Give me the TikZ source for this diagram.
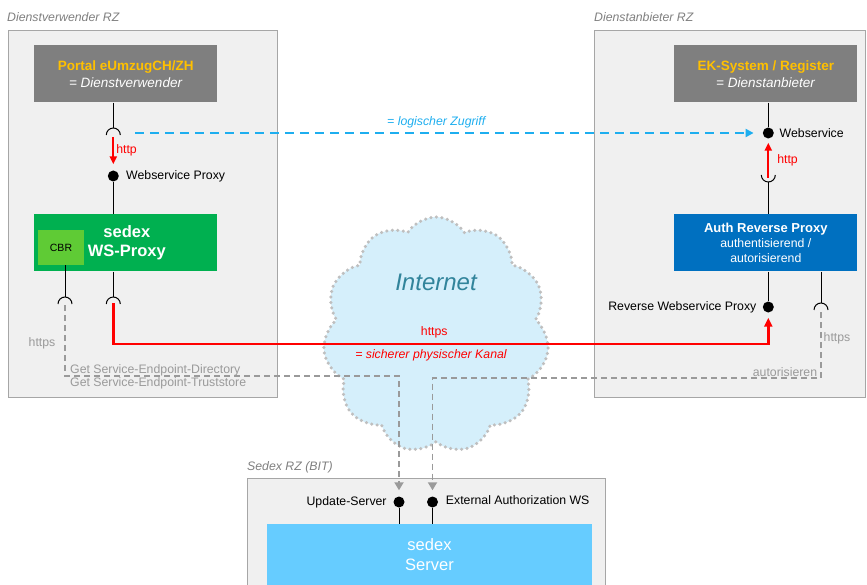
\documentclass[tikz,border=0pt]{standalone}
\usepackage{fontspec}
\setmainfont{Liberation Sans}
\usepackage{xcolor}
\usetikzlibrary{shapes.symbols, arrows.meta, positioning}

\definecolor{rzfill}{HTML}{F0F0F0}
\definecolor{rzline}{HTML}{A6A6A6}
\definecolor{boxgray}{HTML}{7F7F7F}
\definecolor{titleorange}{HTML}{FFC000}
\definecolor{proxygreen}{HTML}{00B050}
\definecolor{cbrgreen}{HTML}{5FCB35}
\definecolor{authblue}{HTML}{0070C0}
\definecolor{serverblue}{HTML}{66CCFF}
\definecolor{cloudfill}{HTML}{D5EFFB}
\definecolor{cloudline}{HTML}{BFBFBF}
\definecolor{nettext}{HTML}{31849B}
\definecolor{logicblue}{HTML}{1EAEEF}
\definecolor{flowgray}{HTML}{9A9A9A}

\begin{document}
\begin{tikzpicture}[x=1pt, y=-1pt, font=\fontsize{12.3}{14}\selectfont]
\tikzstyle{rz} = [draw=rzline, fill=rzfill, line width=0.8pt]
\tikzstyle{rzname} = [anchor=west, inner sep=0pt, text=boxgray, font=\fontsize{12.3}{14}\selectfont\itshape]
\tikzstyle{system} = [rectangle, fill=boxgray, text=white, minimum width=183pt, minimum height=57pt, align=center, inner sep=0pt, font=\fontsize{13.5}{16.5}\selectfont]
\tikzstyle{proxy} = [rectangle, fill=proxygreen, text=white, minimum width=183pt, minimum height=57pt, align=center, inner sep=0pt, font=\fontsize{16.5}{19}\selectfont\bfseries]
\tikzstyle{auth} = [rectangle, fill=authblue, text=white, minimum width=183pt, minimum height=57pt, align=center, inner sep=0pt, font=\fontsize{12.3}{15}\selectfont]
\tikzstyle{server} = [rectangle, fill=serverblue, text=white, minimum width=325pt, minimum height=62pt, align=center, inner sep=0pt, font=\fontsize{16.5}{20}\selectfont]
\tikzstyle{wsdot} = [circle, fill=black, inner sep=0pt, minimum size=11pt]
\tikzstyle{wsname} = [inner sep=0pt]
\tikzstyle{wire} = [line width=1pt]
\tikzstyle{httparrow} = [line width=2pt, red, -{Triangle[length=8pt, width=7pt]}]
\tikzstyle{phys} = [line width=2.6pt, red, -{Triangle[length=9pt, width=8pt]}]
\tikzstyle{logic} = [line width=2pt, logicblue, dash pattern=on 9pt off 6pt, -{Triangle[length=8pt, width=8pt]}]
\tikzstyle{flow} = [line width=1.8pt, flowgray, dash pattern=on 6pt off 4pt, -{Triangle[length=8pt, width=9pt]}]
\tikzstyle{grynote} = [text=flowgray, inner sep=0pt]

\useasboundingbox (0,0) rectangle (867,585);

% Rechenzentren
\draw[rz] (8,30) rectangle (277,397);
\draw[rz] (594,30) rectangle (865,397);
\fill[rzfill] (247,478) rectangle (605,590);
\draw[rzline, line width=0.8pt] (247,590) -- (247,478) -- (605,478) -- (605,590);
\node[rzname] (lrzname) at (7,17) {Dienstverwender RZ};
\node[rzname] (rrzname) at (594,17) {Dienstanbieter RZ};
\node[rzname] (brzname) at (247,467) {Sedex RZ (BIT)};

\node[cloud, cloud puffs=11, cloud puff arc=115, aspect=1, minimum width=226pt, minimum height=236pt, fill=cloudfill, draw=cloudline, line width=3.5pt, dash pattern=on 0pt off 5.5pt, line cap=round] (net) at (436,335) {};
\node[text=nettext, font=\fontsize{24}{28}\selectfont\itshape] (nettxt) at (436,282) {Internet};

% Boxen
\node[system] (portal) at (125.8,74) {\textcolor{titleorange}{\textbf{Portal eUmzugCH/ZH}}\\\textit{= Dienstverwender}};
\node[system] (eksys) at (765.8,74) {\textcolor{titleorange}{\textbf{EK-System / Register}}\\\textit{= Dienstanbieter}};
\node[proxy] (sedex) at (125.8,243) {\hspace*{2pt}sedex\\\hspace*{2pt}WS-Proxy};
\node[rectangle, fill=cbrgreen, minimum width=46pt, minimum height=35pt, inner sep=0pt, font=\fontsize{10.5}{12}\selectfont] (cbr) at (61,247.5) {CBR};
\node[auth] (authrp) at (765.8,243) {\textbf{\fontsize{13}{15}\selectfont Auth Reverse Proxy}\\authentisierend /\\autorisierend};
\node[server] (server) at (429.5,555) {sedex\\Server};

% Webservices
\node[wsdot] (wsp) at (113.3,176) {};
\node[wsdot] (ws) at (768.3,133) {};
\node[wsdot] (rwsp) at (768.3,307) {};
\node[wsdot] (upd) at (399,502) {};
\node[wsdot] (extauth) at (432.5,502) {};
\node[wsname, right=7pt of wsp] (wsptxt) {Webservice Proxy};
\node[wsname, right=5.5pt of ws] (wstxt) {Webservice};
\node[wsname, left=6pt of rwsp] (rwsptxt) {Reverse Webservice Proxy};
\node[wsname, left=6.5pt of upd] (updtxt) {Update-Server};
\node[wsname, right=7.5pt of extauth, yshift=1.5pt] (extauthtxt) {External Authorization WS};

% Sockets
\coordinate (sockA) at (113.3,128);
\coordinate (sockB) at (113.3,297);
\coordinate (sockC) at (65,297);
\coordinate (sockD) at (768.3,182);
\coordinate (sockE) at (821,303);
\draw[wire] ([xshift=-7pt, yshift=-7pt]sockA) arc[start angle=180, end angle=0, radius=7pt];
\draw[wire] ([xshift=-7pt, yshift=-7pt]sockB) arc[start angle=180, end angle=0, radius=7pt];
\draw[wire] ([xshift=-7pt, yshift=-7pt]sockC) arc[start angle=180, end angle=0, radius=7pt];
\draw[wire] ([xshift=-7pt, yshift=7pt]sockD) arc[start angle=180, end angle=360, radius=7pt];
\draw[wire] ([xshift=-7pt, yshift=-7pt]sockE) arc[start angle=180, end angle=0, radius=7pt];

\draw[wire] (portal.south -| sockA) -- (sockA);
\draw[wire] (wsp) -- (sedex.north -| wsp);
\draw[wire] (sedex.south -| sockB) -- (sockB);
\draw[wire] (cbr.south -| sockC) -- (sockC);
\draw[wire] (eksys.south -| ws) -- (ws);
\draw[wire] (sockD) -- (authrp.north -| sockD);
\draw[wire] (authrp.south -| rwsp) -- (rwsp);
\draw[wire] (authrp.south -| sockE) -- (sockE);
\draw[wire] (upd) -- (server.north -| upd);
\draw[wire] (extauth) -- (server.north -| extauth);

% Verbindungen
\draw[httparrow, shorten >=6pt] ([yshift=-9pt]sockA) -- node[right=2pt, red, inner sep=0pt, yshift=3pt] {http} (wsp);
\draw[httparrow, shorten >=4pt] ([yshift=4pt]sockD) -- node[right=8pt, red, inner sep=0pt, yshift=-2pt] {http} (ws);
\coordinate (logstart) at (135,133);
\draw[logic, shorten >=9pt] (logstart) -- node[above=4pt, pos=0.48, inner sep=0pt, text=logicblue, font=\fontsize{12.3}{14}\selectfont\itshape] {= logischer Zugriff} (ws);
\coordinate (kanal) at (113.3,344);
\draw[phys, shorten >=5pt] ([yshift=-6pt]sockB) -- (kanal) -- node[above=5pt, pos=0.49, inner sep=0pt, text=red] {https} node[below=4pt, pos=0.485, inner sep=0pt, text=red, font=\fontsize{12.3}{14}\selectfont\itshape] {= sicherer physischer Kanal} (kanal -| rwsp) -- (rwsp);
\coordinate (dirturn) at (65,376);
\draw[flow, shorten >=6pt] ([yshift=-8pt]sockC) -- (dirturn) -| (upd);
\coordinate (authturn) at (821,378);
\draw[flow, shorten >=6pt] ([yshift=-9pt]sockE) -- (authturn) -| (extauth);

\node[grynote] (httpsl) at (42,343) {https};
\node[grynote] (httpsr) at (837,338) {https};
\node[grynote, anchor=west, align=left, font=\fontsize{12.3}{13}\selectfont] (getsed) at (70,377) {Get Service-Endpoint-Directory\\Get Service-Endpoint-Truststore};
\node[grynote] (autor) at (785,372) {autorisieren};
\end{tikzpicture}
\end{document}
